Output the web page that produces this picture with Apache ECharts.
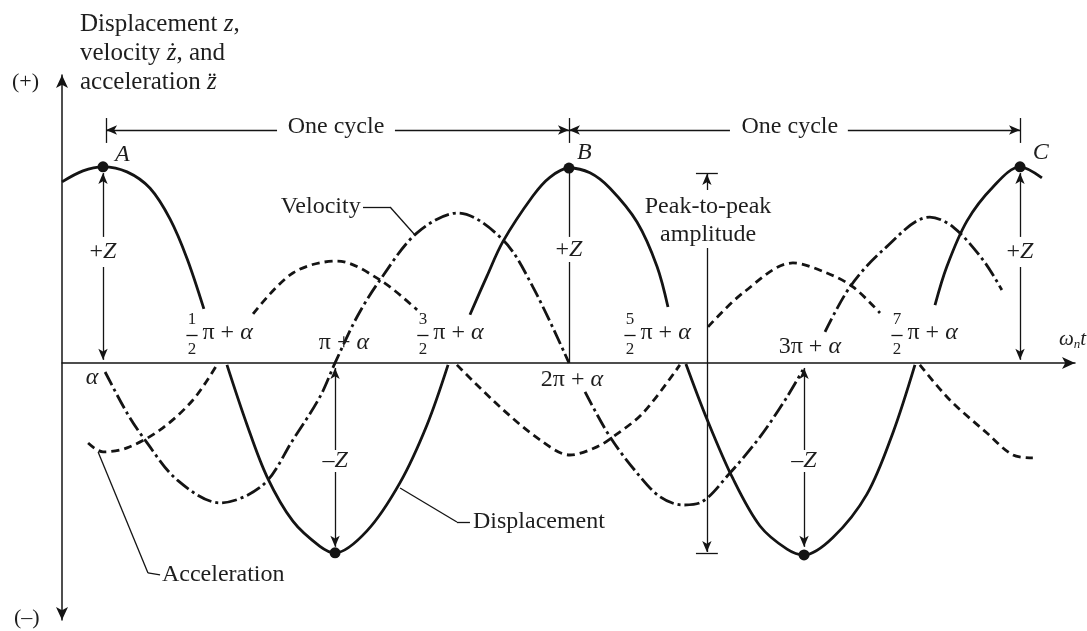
<!DOCTYPE html>
<html>
<head>
<meta charset="utf-8">
<script src="https://cdn.jsdelivr.net/npm/echarts@6/dist/echarts.min.js"></script>
<style>
html, body { margin: 0; padding: 0; background: #fff; }
#chart { width: 1087px; height: 631px; }
</style>
</head>
<body>
<div id="chart"></div>
<script>
// Horizontal axis: phase ω_n t measured from α, in units of π.
// Vertical axis: response in units of the displacement amplitude Z.
// A null entry breaks a curve where a label sits on it.

const displacement = [
  [-0.176, 0.938], [-0.086, 0.995], [0, 1.016], [0.103, 0.990], [0.202, 0.905],
  [0.288, 0.745], [0.361, 0.540], [0.433, 0.280],
  null,
  [0.532, -0.010], [0.618, -0.320], [0.704, -0.590], [0.815, -0.820], [0.931, -0.950],
  [0.996, -0.984], [1.133, -0.870], [1.275, -0.620], [1.391, -0.320], [1.481, -0.010],
  null,
  [1.575, 0.250], [1.648, 0.450], [1.717, 0.630], [1.845, 0.865], [1.918, 0.962],
  [2.000, 1.010], [2.090, 0.985], [2.176, 0.905], [2.292, 0.730], [2.378, 0.500], [2.425, 0.290],
  null,
  [2.502, -0.005], [2.592, -0.290], [2.704, -0.600], [2.820, -0.845], [2.936, -0.965],
  [3.009, -0.995], [3.133, -0.905], [3.279, -0.680], [3.391, -0.360], [3.485, -0.010],
  null,
  [3.571, 0.300], [3.622, 0.500], [3.708, 0.735], [3.820, 0.912], [3.936, 1.016], [4.030, 0.959]
];

const velocity = [
  [0.009, -0.047], [0.103, -0.259], [0.180, -0.399], [0.318, -0.606], [0.502, -0.725],
  [0.687, -0.632], [0.815, -0.399], [0.931, -0.176], [0.996, 0.000], [1.090, 0.238],
  [1.189, 0.430], [1.348, 0.674], [1.524, 0.777], [1.717, 0.637], [1.845, 0.394], [2.000, 0.000],
  null,
  [2.069, -0.150], [2.176, -0.383], [2.292, -0.570], [2.391, -0.694], [2.489, -0.736],
  [2.562, -0.725], [2.691, -0.570], [2.820, -0.383], [2.936, -0.176], [3.004, -0.036],
  null,
  [3.099, 0.161], [3.206, 0.394], [3.348, 0.585], [3.549, 0.756], [3.648, 0.705],
  [3.777, 0.534], [3.858, 0.378]
];

const acceleration = [
  [-0.064, -0.415], [0, -0.461], [0.103, -0.440], [0.245, -0.347], [0.386, -0.192], [0.489, -0.010],
  null,
  [0.644, 0.254], [0.815, 0.466], [1.004, 0.528], [1.189, 0.430], [1.348, 0.275],
  null,
  [1.519, -0.010], [1.704, -0.228], [1.876, -0.399], [2.004, -0.477], [2.120, -0.435],
  [2.189, -0.383], [2.318, -0.259], [2.476, -0.010],
  null,
  [2.597, 0.187], [2.747, 0.363], [2.961, 0.518], [3.107, 0.466], [3.219, 0.394], [3.335, 0.259],
  null,
  [3.506, -0.010], [3.635, -0.192], [3.794, -0.363], [3.906, -0.477], [3.991, -0.492]
];

// Peaks A, B, C and the two troughs of the displacement
const peaks = [[0, 1.016], [2.000, 1.010], [3.936, 1.016]];
const troughs = [[0.996, -0.984], [3.009, -0.995]];

const peakNames = [['A', 0.052, 1.078], ['B', 2.034, 1.088], ['C', 3.991, 1.088]];
const ampLabels = [['+', 0, 0.575], ['+', 2.000, 0.588], ['+', 3.936, 0.575],
                   ['–', 0.996, -0.508], ['–', 3.009, -0.508]];
const wholeLabels = [['', -0.047, -0.078], ['π + ', 1.034, 0.104], ['2π + ', 2.013, -0.088], ['3π + ', 3.034, 0.083]];
const halfLabels = [['1', 0.382], ['3', 1.373], ['5', 2.262], ['7', 3.408]];
const cycleLabels = [['One cycle', 1.000, 1.223], ['One cycle', 2.948, 1.223]];

// Dimension lines: [x1, y1, x2, y2, endSymbol]
const guideLines = [
  [0, 0.653, 0, 0.984, 'arrow'], [0, 0.497, 0, 0.016, 'arrow'],
  [2.000, 1.010, 2.000, 0.653], [2.000, 0.523, 2.000, 0],
  [3.936, 0.653, 3.936, 0.984, 'arrow'], [3.936, 0.497, 3.936, 0.016, 'arrow'],
  [0.996, -0.451, 0.996, -0.026, 'arrow'], [0.996, -0.565, 0.996, -0.953, 'arrow'],
  [3.009, -0.451, 3.009, -0.026, 'arrow'], [3.009, -0.565, 3.009, -0.953, 'arrow'],
  [2.592, 0.896, 2.592, 0.979, 'arrow'], [2.592, 0.596, 2.592, -0.979, 'arrow'],
  [2.545, 0.984, 2.639, 0.984], [2.545, -0.984, 2.639, -0.984],
  [0.013, 1.269, 0.013, 1.140], [2.000, 1.269, 2.000, 1.140], [3.936, 1.269, 3.936, 1.140],
  [0.747, 1.207, 0.013, 1.207, 'arrow'], [1.253, 1.207, 2.000, 1.207, 'arrow'],
  [2.691, 1.207, 2.000, 1.207, 'arrow'], [3.197, 1.207, 3.936, 1.207, 'arrow'],
  // leaders to the curve names
  [1.116, 0.808, 1.232, 0.808], [1.232, 0.808, 1.339, 0.663],
  [1.275, -0.648, 1.519, -0.824], [1.519, -0.824, 1.575, -0.824],
  [-0.021, -0.461, 0.193, -1.088], [0.193, -1.088, 0.245, -1.098]
];

const FONT = 'Liberation Serif';
const INK = '#141414';
const TXT = '#1e1e1e';

const rich = {
  r: { fontFamily: FONT, fontSize: 24, color: TXT },
  i: { fontFamily: FONT, fontSize: 24, color: TXT, fontStyle: 'italic' },
  wi: { fontFamily: FONT, fontSize: 21, color: TXT, fontStyle: 'italic' },
  s: { fontFamily: FONT, fontSize: 13, color: TXT, fontStyle: 'italic', padding: [9, 0, 0, 0] },
  f: { fontFamily: FONT, fontSize: 17, color: TXT }
};

function segments(arr) {
  const out = [];
  let cur = [];
  arr.forEach(p => {
    if (p === null) { if (cur.length) out.push(cur); cur = []; }
    else cur.push(p);
  });
  if (cur.length) out.push(cur);
  return out;
}

// smooth ≈ 1/3 gives Catmull-Rom-like tangents through the read points
function curveSeries(arr, dash) {
  return segments(arr).map(seg => ({
    type: 'line', data: seg, smooth: 0.33, showSymbol: false, silent: true, z: 3,
    lineStyle: { color: INK, width: 2.8, type: dash, cap: 'butt' }
  }));
}

function textItem(x, y, formatter, position, extra) {
  return {
    value: [x, y],
    label: Object.assign({
      show: true, formatter, position: position || 'inside', distance: 0,
      fontFamily: FONT, fontSize: 24, color: TXT, opacity: 1, rich
    }, extra || {})
  };
}

const texts = [];
peakNames.forEach(([n, x, y]) => texts.push(textItem(x, y, '{i|' + n + '}', 'right')));
ampLabels.forEach(([s, x, y]) => texts.push(textItem(x, y, '{r|' + s + '}{i|Z}')));
wholeLabels.forEach(([s, x, y]) => texts.push(textItem(x, y, (s ? '{r|' + s + '}' : '') + '{i|α}')));
halfLabels.forEach(([n, x]) => {
  texts.push(textItem(x, 0.223, '{f|' + n + '}'));
  texts.push(textItem(x, 0.067, '{f|2}'));
  texts.push(textItem(x + 0.045, 0.155, '{r|π + }{i|α}', 'right'));
});
cycleLabels.forEach(([s, x, y]) => texts.push(textItem(x, y, s)));
texts.push(textItem(1.106, 0.808, 'Velocity', 'left'));
texts.push(textItem(1.588, -0.824, 'Displacement', 'right'));
texts.push(textItem(0.253, -1.098, 'Acceleration', 'right'));
texts.push(textItem(2.597, 0.808, 'Peak-to-peak'));
texts.push(textItem(2.597, 0.663, 'amplitude'));
texts.push(textItem(4.103, 0.119, '{wi|ω}{s|n}{wi|t}', 'right'));

const fractionBars = halfLabels.map(([n, x]) => [x - 0.024, 0.145, x + 0.024, 0.145]);

const markLineData = guideLines.concat(fractionBars).map(([x1, y1, x2, y2, s]) => [
  { coord: [x1, y1], symbol: 'none' },
  { coord: [x2, y2], symbol: s || 'none' }
]);

const series = []
  .concat(curveSeries(displacement, 'solid'))
  .concat(curveSeries(velocity, [15, 4, 3, 4]))
  .concat(curveSeries(acceleration, [8, 5]))
  .concat([
    {
      type: 'line', data: [], silent: true,
      markLine: {
        silent: true, animation: false, symbolSize: [7, 11],
        label: { show: false }, emphasis: { disabled: true },
        lineStyle: { color: INK, width: 1.3, type: 'solid' },
        data: markLineData
      }
    },
    {
      type: 'scatter', data: peaks.concat(troughs), symbolSize: 11, silent: true, z: 5,
      itemStyle: { color: INK, opacity: 1 }
    },
    {
      type: 'scatter', data: texts, symbolSize: 0, silent: true, z: 6,
      itemStyle: { opacity: 1 }
    }
  ]);

const chart = echarts.init(document.getElementById('chart'), null, { renderer: 'canvas' });
chart.setOption({
  animation: false,
  backgroundColor: '#fff',
  grid: { left: 62, right: 12, top: 75, bottom: 11, containLabel: false },
  xAxis: {
    type: 'value', min: -0.176, max: 4.172,
    axisLine: { show: true, onZero: true, symbol: ['none', 'arrow'], symbolSize: [9, 13],
                lineStyle: { color: INK, width: 1.5 } },
    axisTick: { show: false }, axisLabel: { show: false }, splitLine: { show: false }
  },
  yAxis: {
    type: 'value', min: -1.332, max: 1.492,
    axisLine: { show: true, onZero: false, symbol: ['arrow', 'arrow'], symbolSize: [9, 13],
                lineStyle: { color: INK, width: 1.5 } },
    axisTick: { show: false }, axisLabel: { show: false }, splitLine: { show: false }
  },
  graphic: [
    {
      type: 'text', x: 80, y: 10,
      style: {
        text: '{r|Displacement }{i|z}{r|,}\n{r|velocity }{i|ż}{r|, and}\n{r|acceleration }{i|z\u0308}',
        rich: {
          r: { fontFamily: FONT, fontSize: 25, fill: TXT, lineHeight: 29 },
          i: { fontFamily: FONT, fontSize: 25, fill: TXT, fontStyle: 'italic', lineHeight: 29 }
        }
      }
    },
    { type: 'text', x: 12, y: 71, style: { text: '(+)', fontFamily: FONT, fontSize: 22, fill: TXT } },
    { type: 'text', x: 14, y: 607, style: { text: '(–)', fontFamily: FONT, fontSize: 22, fill: TXT } }
  ],
  series
});
</script>
</body>
</html>
